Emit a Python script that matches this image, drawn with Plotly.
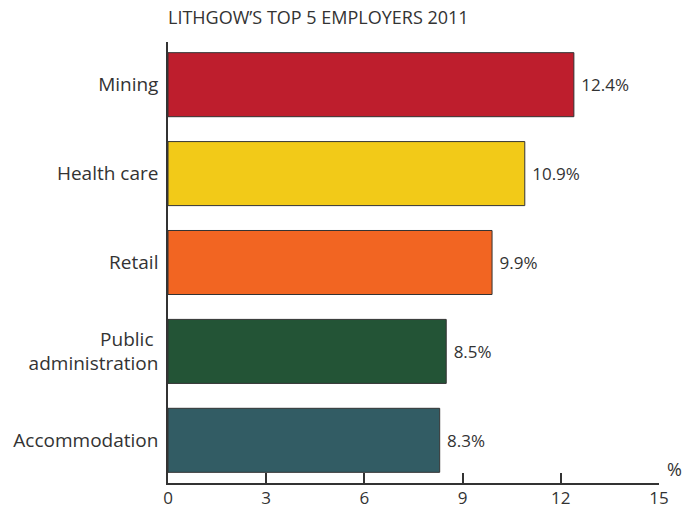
import plotly.graph_objects as go

categories = ["Accommodation", "Public\u00a0<br>administration", "Retail", "Health care", "Mining"]
values = [8.3, 8.5, 9.9, 10.9, 12.4]
colors = ["#325C64", "#235436", "#F26522", "#F2CA18", "#BE1E2D"]
labels = ["\u00a08.3%", "\u00a08.5%", "\u00a09.9%", "\u00a010.9%", "\u00a012.4%"]
tick_vals = [0, 3, 6, 9, 12, 15]

font_family = "Open Sans, Noto Sans, sans-serif"
dark = "#333333"

fig = go.Figure(go.Bar(
    y=list(range(len(categories))),
    x=values,
    orientation="h",
    marker=dict(color=colors, line=dict(color=dark, width=1)),
    width=0.72,
    text=labels,
    textposition="outside",
    textfont=dict(family=font_family, size=17, color=dark),
    cliponaxis=False,
))

fig.update_layout(
    width=698, height=509,
    margin=dict(l=168, r=39, t=42, b=26, autoexpand=False),
    paper_bgcolor="white", plot_bgcolor="white",
    showlegend=False,
    title=dict(text="LITHGOW\u2019S TOP 5 EMPLOYERS 2011",
               font=dict(family=font_family, size=18, color=dark),
               x=168/698, xanchor="left", y=1-18/509, yanchor="middle"),
    font=dict(family=font_family, color=dark),
)
fig.update_xaxes(
    range=[0, 15], tickvals=tick_vals, ticktext=[str(v) for v in tick_vals],
    ticks="inside", ticklen=10, tickwidth=1.5, tickcolor=dark,
    showline=True, linecolor=dark, linewidth=1.5,
    showgrid=False, zeroline=False, automargin=False,
    tickfont=dict(family=font_family, size=17, color=dark),
    ticklabelstandoff=-1,
)
fig.update_yaxes(
    range=[-0.48, 4.48], tickvals=list(range(len(categories))), ticktext=categories,
    ticks="", showline=True, linecolor=dark, linewidth=1.5,
    showgrid=False, zeroline=False, automargin=False,
    tickfont=dict(family=font_family, size=19, color=dark),
    ticklabelstandoff=4,
)
fig.add_annotation(text="%", x=1, xref="paper", y=0, yref="paper",
                   xanchor="left", yanchor="bottom", xshift=6, yshift=0,
                   showarrow=False, font=dict(family=font_family, size=18, color=dark))

fig.write_html("out.html", config={"displayModeBar": False},
               post_script="document.body.style.margin='0px';")
